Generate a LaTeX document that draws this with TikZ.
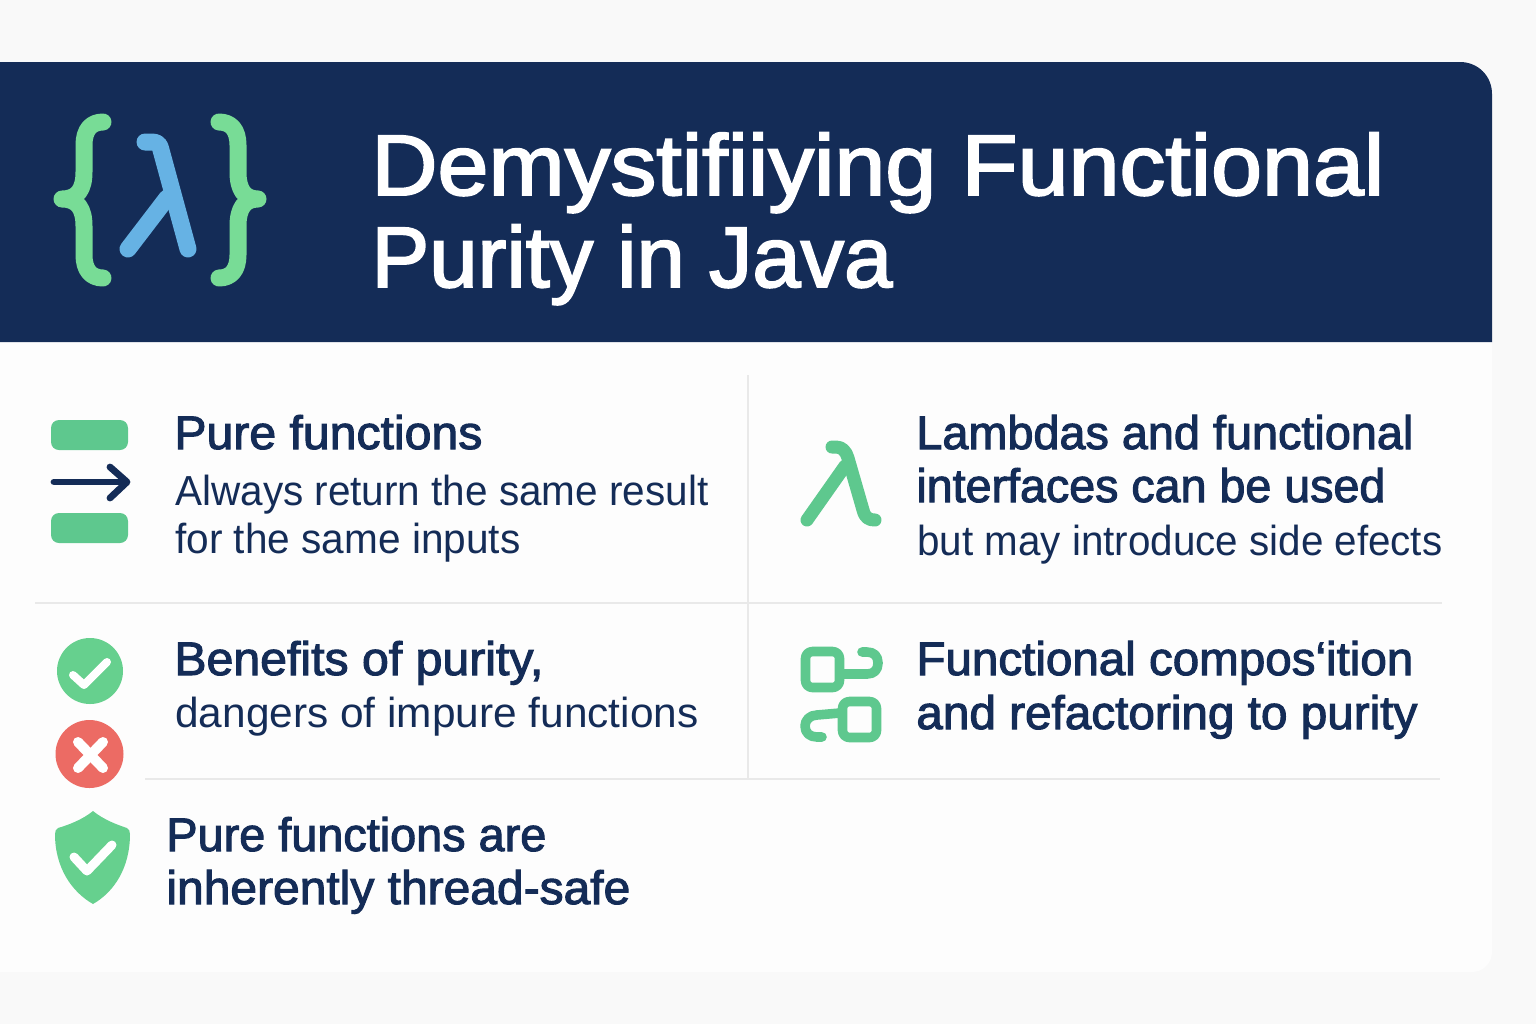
\documentclass[tikz,border=0pt]{standalone}
\usepackage{graphicx}
\usepackage{fontspec}
\setmainfont{Liberation Sans}
\newfontfamily\medfont[FakeBold=2.2]{Liberation Sans}
\newfontfamily\regfont{Liberation Sans}
\newcommand{\fitw}[2]{\resizebox{#1pt}{\height}{#2}}
\definecolor{navy}{HTML}{142C57}
\definecolor{pagebg}{HTML}{F9F9F9}
\definecolor{cardbg}{HTML}{FDFDFD}
\definecolor{rulecol}{HTML}{E9E9E9}
\definecolor{braceg}{HTML}{78DC96}
\definecolor{skyb}{HTML}{66B2E4}
\definecolor{icong}{HTML}{5EC88E}
\definecolor{checkg}{HTML}{66D08E}
\definecolor{crossr}{HTML}{EC6B64}
\tikzset{
  titletext/.style={anchor=base west,inner sep=0pt,text=white,font=\medfont\fontsize{43}{43}\selectfont},
  headtext/.style={anchor=base west,inner sep=0pt,text=navy,font=\medfont\fontsize{23.5}{24}\selectfont},
  bodytext/.style={anchor=base west,inner sep=0pt,text=navy,font=\regfont\fontsize{21}{24}\selectfont},
  divider/.style={draw=rulecol,line width=0.6pt},
  icstroke/.style={line cap=round,line join=round},
}
\begin{document}
\begin{tikzpicture}[x=0.5pt,y=-0.5pt]
\useasboundingbox (0,0) rectangle (1536,1024);
\fill[pagebg] (0,0) rectangle (1536,1024);
% card
\fill[cardbg] (0,342) -- (1492,342) -- (1492,952) .. controls (1492,963) and (1483,972) .. (1472,972) -- (0,972) -- cycle;
% header
\fill[navy] (0,62) -- (1460,62) .. controls (1478,62) and (1492,76) .. (1492,94) -- (1492,342) -- (0,342) -- cycle;
% dividers
\draw[divider] (748,375) -- (748,779);
\draw[divider] (35,603) -- (1442,603);
\draw[divider] (145,779) -- (1440,779);
% logo
\begin{scope}[icstroke,line width=8.5pt]
\draw[braceg] (103,122) .. controls (91,122) and (84,130) .. (84,145) -- (84,172) .. controls (84,189) and (78,199) .. (62,199) .. controls (78,199) and (84,209) .. (84,226) -- (84,255) .. controls (84,270) and (91,278) .. (103,278);
\draw[braceg] (219,122) .. controls (231,122) and (238,130) .. (238,145) -- (238,172) .. controls (238,189) and (244,199) .. (258,199) .. controls (244,199) and (238,209) .. (238,226) -- (238,255) .. controls (238,270) and (231,278) .. (219,278);
\draw[skyb] (145,142) -- (152,142) .. controls (158,142) and (160,145) .. (161,150) -- (188,249);
\draw[skyb] (128,249) -- (167,198);
\end{scope}
% title
\node[titletext] (t1) at (371,195) {\fitw{506.5}{Demystifiiying Functional}};
\node[titletext] (t2) at (371,287) {\fitw{260.5}{Purity in Java}};
% pure functions icon
\fill[icong] (51,420) [rounded corners=4pt] rectangle (128,450);
\fill[icong] (51,513) [rounded corners=4pt] rectangle (128,543);
\draw[navy,icstroke,line width=3.4pt] (54,482) -- (126,482);
\draw[navy,icstroke,line width=3.4pt] (110,467) -- (127,482) -- (110,498);
% lambda icon
\begin{scope}[icstroke,line width=6.5pt]
\draw[icong] (832,447) -- (836,447) .. controls (842,447) and (846,451) .. (848,458) -- (863,510) .. controls (865,518) and (869,520) .. (875,520);
\draw[icong] (807,520) -- (845,466);
\end{scope}
% check and cross
\fill[checkg] (90,671) circle[radius=33];
\draw[white,icstroke,line width=4pt] (73,675) -- (84,685) -- (107,662);
\fill[crossr] (89.5,754) circle[radius=34];
\draw[white,icstroke,line width=5pt] (78,742) -- (103,768) (103,742) -- (78,768);
% shield
\fill[checkg] (93,811) .. controls (104,820) and (118,825) .. (127,828) .. controls (129,829) and (130,831) .. (130,834) .. controls (130,868) and (114,892) .. (93,904) .. controls (72,892) and (55,868) .. (55,834) .. controls (55,831) and (56,829) .. (58,828) .. controls (68,825) and (82,820) .. (93,811) -- cycle;
\draw[white,icstroke,line width=4.5pt] (74,857) -- (87,871) -- (112,845);
% composition icon
\begin{scope}[icstroke,line width=4.8pt,draw=icong]
\draw[rounded corners=3.5pt] (805.5,651.5) rectangle (839.5,687.5);
\draw[rounded corners=3.5pt] (842.5,701.5) rectangle (876.5,737.5);
\draw (842,674) -- (867,674) .. controls (874,674) and (878,670) .. (878,663) .. controls (878,656) and (874,652) .. (867,652) -- (862,652);
\draw (840,713) -- (817,715) .. controls (810,715) and (805,720) .. (805,726) .. controls (805,733) and (810,737) .. (817,737) -- (822,737);
\end{scope}
% texts
\node[headtext] (h1) at (174,449) {\fitw{154}{Pure functions}};
\node[bodytext] (b1a) at (175,505) {\fitw{266.5}{Always return the same result}};
\node[bodytext] (b1b) at (175,553) {\fitw{172.5}{for the same inputs}};
\node[headtext] (h2a) at (916,449) {\fitw{248.5}{Lambdas and functional}};
\node[headtext] (h2b) at (916,502) {\fitw{234.5}{interfaces can be used}};
\node[bodytext] (b2) at (917,555) {\fitw{262.5}{but may introduce side efects}};
\node[headtext] (h3) at (174,675) {\fitw{184.5}{Benefits of purity,}};
\node[bodytext] (b3) at (175,727) {\fitw{261.5}{dangers of impure functions}};
\node[headtext] (h4a) at (916,675) {\fitw{248.5}{Functional compos\char"2018ition}};
\node[headtext] (h4b) at (916,729) {\fitw{250.5}{and refactoring to purity}};
\node[headtext] (h5a) at (166,851) {\fitw{190}{Pure functions are}};
\node[headtext] (h5b) at (166,904) {\fitw{232}{inherently thread-safe}};
\end{tikzpicture}
\end{document}
